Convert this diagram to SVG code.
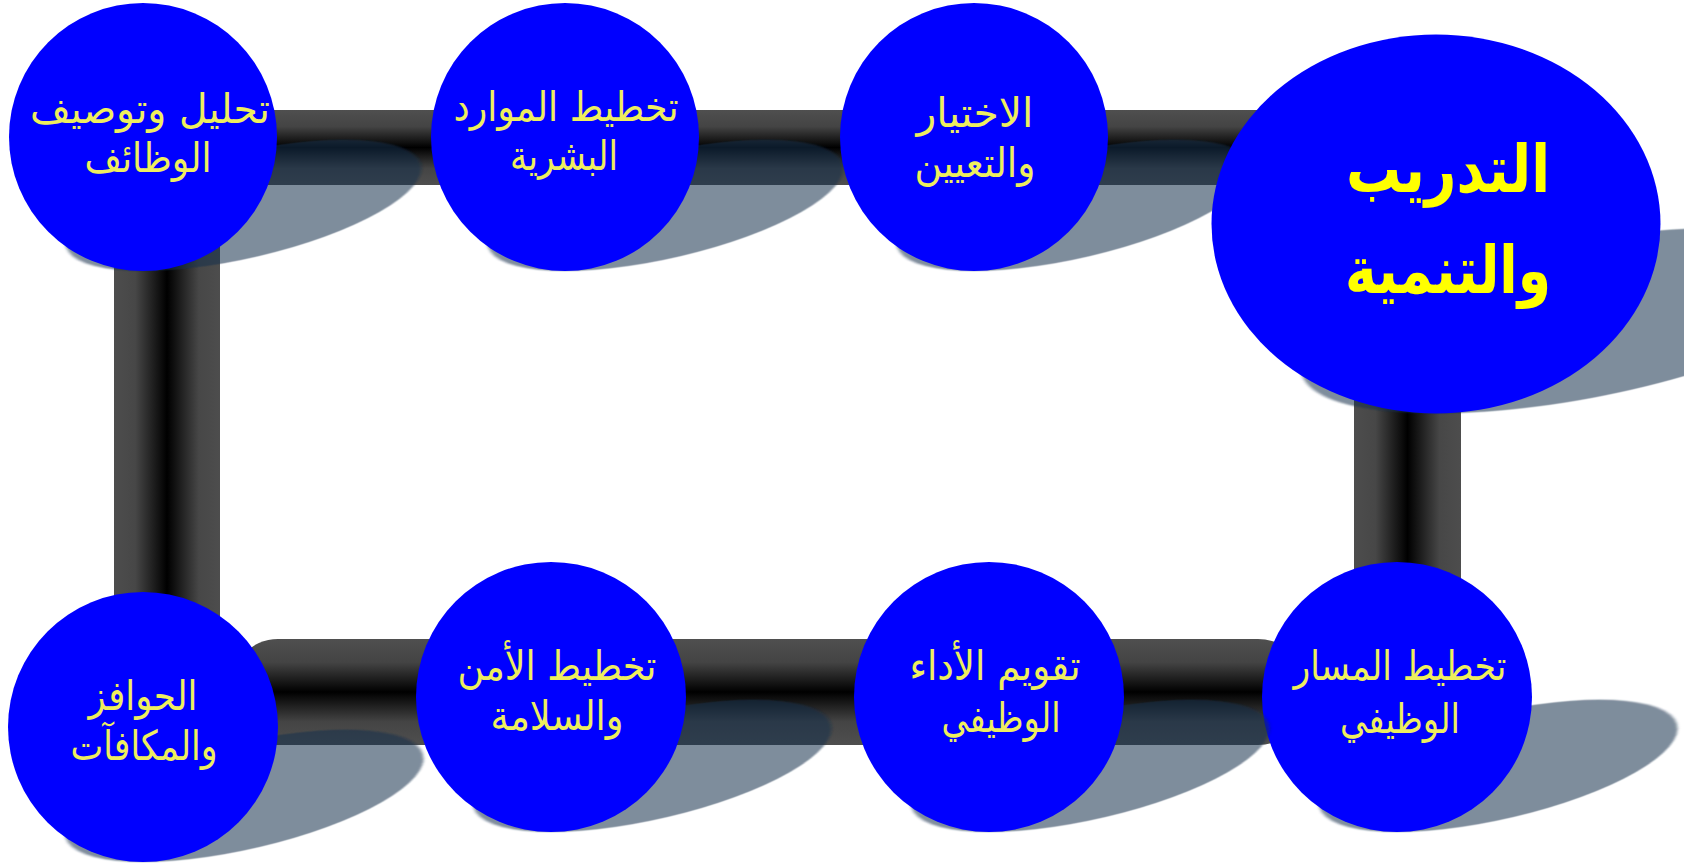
<svg xmlns="http://www.w3.org/2000/svg" width="1684" height="864" viewBox="0 0 1684 864">
<style>
.node{fill:#0000ff}
.shadow{fill:#18314b;fill-opacity:0.55;filter:url(#soft)}
.lbl{fill:#eeee5e;font-family:"DejaVu Sans","Liberation Sans",sans-serif;font-size:41px;text-anchor:middle;direction:rtl}
.big{fill:#ffff00;font-family:"DejaVu Sans","Liberation Sans",sans-serif;font-size:66px;font-weight:bold;text-anchor:middle;direction:rtl}
</style>
<defs>
<linearGradient id="gh" x1="0" y1="0" x2="0" y2="1">
<stop offset="0" stop-color="#4f4f4f"/><stop offset="0.22" stop-color="#444"/><stop offset="0.5" stop-color="#000"/><stop offset="0.78" stop-color="#444"/><stop offset="1" stop-color="#4f4f4f"/>
</linearGradient>
<linearGradient id="gv" x1="0" y1="0" x2="1" y2="0">
<stop offset="0" stop-color="#4d4d4d"/><stop offset="0.2" stop-color="#474747"/><stop offset="0.5" stop-color="#000"/><stop offset="0.8" stop-color="#474747"/><stop offset="1" stop-color="#4d4d4d"/>
</linearGradient>
<filter id="soft" x="-10%" y="-10%" width="120%" height="120%"><feGaussianBlur stdDeviation="1"/></filter>
</defs>
<g id="connectors">
<rect x="114" y="200" width="106" height="460" fill="url(#gv)"/>
<rect x="1354" y="340" width="107" height="280" fill="url(#gv)"/>
<rect x="228" y="110" width="1080" height="75" rx="40" ry="37" fill="url(#gh)"/>
<rect x="228" y="639" width="1080" height="106" rx="50" ry="53" fill="url(#gh)"/>
</g>
<g id="node-analysis">
<ellipse class="shadow" cx="0" cy="-134" rx="134" ry="134" transform="translate(143,271) matrix(1.096 0 -0.75 0.49 0 0)"/>
<circle class="node" cx="143" cy="137" r="134"/>
<text class="lbl" x="150" y="123" textLength="240" lengthAdjust="spacingAndGlyphs">تحليل وتوصيف</text>
<text class="lbl" x="148" y="172" textLength="127" lengthAdjust="spacingAndGlyphs">الوظائف</text>
</g>
<g id="node-hrplanning">
<ellipse class="shadow" cx="0" cy="-134" rx="134" ry="134" transform="translate(565,271) matrix(1.096 0 -0.75 0.49 0 0)"/>
<circle class="node" cx="565" cy="137" r="134"/>
<text class="lbl" x="566" y="121" textLength="225" lengthAdjust="spacingAndGlyphs">تخطيط الموارد</text>
<text class="lbl" x="564" y="170" textLength="108" lengthAdjust="spacingAndGlyphs">البشرية</text>
</g>
<g id="node-selection">
<ellipse class="shadow" cx="0" cy="-134" rx="134" ry="134" transform="translate(974,271) matrix(1.096 0 -0.75 0.49 0 0)"/>
<circle class="node" cx="974" cy="137" r="134"/>
<text class="lbl" x="975" y="127" textLength="117" lengthAdjust="spacingAndGlyphs">الاختيار</text>
<text class="lbl" x="975" y="177" textLength="121" lengthAdjust="spacingAndGlyphs">والتعيين</text>
</g>
<g id="node-training">
<ellipse class="shadow" cx="0" cy="-189.5" rx="224.5" ry="189.5" transform="translate(1436,413.5) matrix(1.06 0 -0.75 0.49 0 0)"/>
<ellipse class="node" cx="1436" cy="224" rx="224.5" ry="189.5"/>
<text class="big" x="1448" y="192" textLength="204" lengthAdjust="spacingAndGlyphs">التدريب</text>
<text class="big" x="1448" y="293" textLength="206" lengthAdjust="spacingAndGlyphs">والتنمية</text>
</g>
<g id="node-career">
<ellipse class="shadow" cx="0" cy="-135" rx="135" ry="135" transform="translate(1397,832) matrix(1.096 0 -0.75 0.49 0 0)"/>
<circle class="node" cx="1397" cy="697" r="135"/>
<text class="lbl" x="1400" y="680" textLength="213" lengthAdjust="spacingAndGlyphs">تخطيط المسار</text>
<text class="lbl" x="1400" y="733" textLength="120" lengthAdjust="spacingAndGlyphs">الوظيفي</text>
</g>
<g id="node-appraisal">
<ellipse class="shadow" cx="0" cy="-135" rx="135" ry="135" transform="translate(989,832) matrix(1.096 0 -0.75 0.49 0 0)"/>
<circle class="node" cx="989" cy="697" r="135"/>
<text class="lbl" x="995" y="680" textLength="171" lengthAdjust="spacingAndGlyphs">تقويم الأداء</text>
<text class="lbl" x="1001" y="732" textLength="119" lengthAdjust="spacingAndGlyphs">الوظيفي</text>
</g>
<g id="node-safety">
<ellipse class="shadow" cx="0" cy="-135" rx="135" ry="135" transform="translate(551,832) matrix(1.096 0 -0.75 0.49 0 0)"/>
<circle class="node" cx="551" cy="697" r="135"/>
<text class="lbl" x="557" y="680" textLength="199" lengthAdjust="spacingAndGlyphs">تخطيط الأمن</text>
<text class="lbl" x="557" y="730" textLength="133" lengthAdjust="spacingAndGlyphs">والسلامة</text>
</g>
<g id="node-incentives">
<ellipse class="shadow" cx="0" cy="-135" rx="135" ry="135" transform="translate(143,862) matrix(1.096 0 -0.75 0.49 0 0)"/>
<circle class="node" cx="143" cy="727" r="135"/>
<text class="lbl" x="143" y="710" textLength="109" lengthAdjust="spacingAndGlyphs">الحوافز</text>
<text class="lbl" x="144" y="760" textLength="147" lengthAdjust="spacingAndGlyphs">والمكافآت</text>
</g>
</svg>
